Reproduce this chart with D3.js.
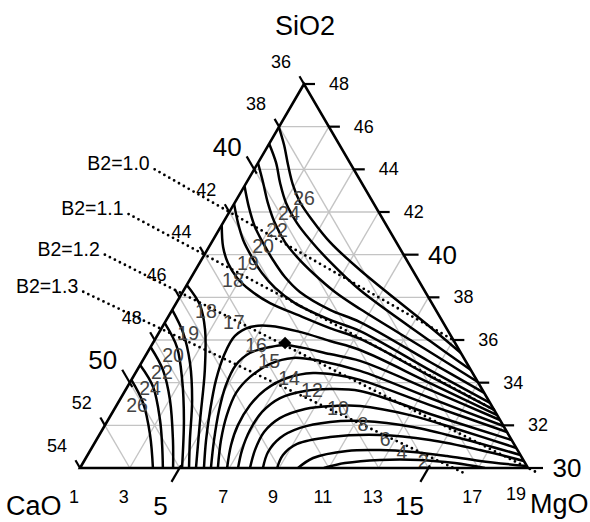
<!DOCTYPE html>
<html>
<head>
<meta charset="utf-8">
<script src="https://cdn.jsdelivr.net/npm/d3@7"></script>
<style>
  body { margin: 0; background: #fff; }
  svg { display: block; font-family: "Liberation Sans", Arial, sans-serif; }
</style>
</head>
<body>
<div id="chart"></div>
<script>
var width = 590,
    height = 522;

// composition window: CaO + SiO2 + MgO = 85 (rest fixed)
var sio2Ticks = [48, 46, 44, 42, 40, 38, 36, 34, 32, 30];
var caoTicks = [36, 38, 40, 42, 44, 46, 48, 50, 52, 54];
var mgoTicks = [1, 3, 5, 7, 9, 11, 13, 15, 17, 19];
var sio2Major = [40, 30];
var caoMajor = [40, 50];
var mgoMajor = [5, 15];

var gridSiO2 = [32, 34, 36, 38, 40, 42, 44, 46];
var gridCaO = [38, 40, 42, 44, 46, 48, 50, 52];
var gridMgO = [3, 5, 7, 9, 11, 13, 15, 17];

// contours as [SiO2, MgO] points
var upperLevels = [26, 24, 22, 20, 19, 18];
var upperLines = [
  [[45.98,1],[45.14,1.63],[44.20,2.26],[43.27,2.92],[42.47,3.60],[41.63,4.51],[40.59,5.75],[39.28,7.61],[36.61,11.76],[35.39,13.61]],
  [[45.2,1],[44.30,1.73],[43.36,2.36],[42.42,3.07],[41.48,3.98],[40.69,4.90],[39.66,6.22],[38.34,8.08],[35.95,12.09],[34.59,14.41]],
  [[44.30,1],[43.36,1.68],[42.42,2.34],[41.48,3.09],[40.59,3.94],[39.84,4.84],[39.14,5.79],[38.25,7.12],[37.45,8.53],[35.44,12.34],[34.03,14.97]],
  [[43.22,1],[42.23,1.67],[41.30,2.38],[40.55,3.08],[39.75,3.88],[38.95,4.76],[38.25,5.71],[37.41,7.34],[36.84,8.83],[34.97,12.58],[33.52,15.48]],
  [[42.38,1],[41.48,1.61],[40.69,2.21],[39.89,2.96],[39.14,3.74],[38.44,4.62],[37.73,5.77],[36.94,7.58],[36.42,9.04],[34.59,12.76],[33.05,15.95]],
  [[41.39,1],[40.36,1.57],[39.61,2.14],[38.91,2.86],[38.34,3.66],[37.73,4.77],[37.13,6.28],[36.56,7.76],[36.05,9.23],[34.31,12.90],[32.72,16.28]]
];

var lowerLevels = [18, 19, 20, 22, 24, 26];
var lowerLines = [
  [[38.58,1],[37.64,2.00],[36.47,2.79],[34.59,3.72],[32.25,4.70],[30,5.66]],
  [[37.41,1],[36.33,1.98],[34.92,2.96],[33.19,3.91],[31.31,4.76],[30,5.38]],
  [[36.80,1],[35.67,2.06],[34.13,3.04],[32.25,4.05],[30,5.10]],
  [[35.67,1],[34.59,2.04],[33.19,3.02],[31.31,4.08],[30,4.74]],
  [[34.83,1],[33.80,2.04],[32.25,3.09],[31.08,3.76],[30,4.33]],
  [[34.13,1],[33.05,2.01],[31.55,3.04],[30,3.93]]
];

var archLevels = [17, 16, 15, 14, 12, 10, 8, 6, 4, 2];
var archLines = [
  [[30,5.98],[31.31,5.41],[32.72,4.87],[34.13,4.40],[35.30,4.14],[36.19,4.13],[36.61,4.53],[36.66,5.31],[36.38,6.65],[35.95,8.07],[35.53,9.49],[33.98,13.07],[32.48,16.52]],
  [[30,6.26],[31.31,5.73],[32.72,5.23],[33.89,4.92],[34.83,4.85],[35.39,5.13],[35.67,5.80],[35.77,6.36],[35.63,7.15],[35.34,8.37],[35.02,9.74],[33.66,13.23],[32.25,16.75]],
  [[30,6.54],[31.31,6.01],[32.48,5.66],[33.52,5.51],[34.27,5.70],[34.88,6.20],[35.16,6.98],[35.02,8.14],[34.55,9.98],[33.28,13.42],[31.97,17.03]],
  [[30,6.91],[31.08,6.53],[32.02,6.34],[32.95,6.36],[33.66,6.60],[34.22,7.21],[34.45,8.14],[34.36,9.15],[34.13,10.19],[32.95,13.59],[31.69,17.31]],
  [[30,7.35],[30.84,7.09],[31.78,6.94],[32.63,7.00],[33.28,7.40],[33.61,8.24],[33.70,9.19],[33.61,10.45],[32.53,13.80],[31.31,17.69]],
  [[30,7.83],[30.84,7.61],[31.69,7.55],[32.34,7.86],[32.77,8.66],[32.91,9.79],[32.91,10.80],[32.48,13.02],[31.78,15.38],[30.94,18.06]],
  [[30,8.35],[30.75,8.18],[31.41,8.33],[31.88,8.90],[32.16,9.97],[32.20,11.27],[31.92,13.42],[31.36,15.71],[30.61,18.39]],
  [[30,8.92],[30.61,8.85],[31.13,9.16],[31.45,10.32],[31.55,12.28],[31.31,14.41],[30.84,16.65],[30.33,18.67]],
  [[30,9.76],[30.47,10.13],[30.80,11.33],[30.84,12.63],[30.75,14.01],[30.56,15.46],[30.33,16.91],[30.09,18.91]],
  [[30,10.80],[30.23,11.53],[30.38,12.86],[30.38,14.47],[30.23,15.95],[30,17.27]]
];

var contourLabels = ["26","24","22","20","19","18","18","19","20","22","24","26","17","16","15","14","12","10","8","6","4","2"];
var contourLabelPos = [[42.66,3.67],[41.95,3.42],[41.16,3.34],[40.41,3.15],[39.61,2.94],[38.81,2.74],
  [37.36,2.38],[36.33,2.18],[35.30,2.09],[34.50,2.04],[33.75,1.94],[32.95,1.82],
  [36.84,3.76],[35.77,5.19],[35.02,6.09],[34.22,7.29],[33.66,8.49],[32.81,9.96],[32.06,11.34],[31.36,12.58],[30.75,13.56],[30.33,14.62]];

// basicity lines CaO/SiO2, drawn between two MgO values
var b2Values = [1.0, 1.1, 1.2, 1.3];
var b2Labels = ["B2=1.0", "B2=1.1", "B2=1.2", "B2=1.3"];
var b2MgOStart = [-3, -3, -3, -3];
var b2MgOEnd = [13, 16.3, 19.4, 16.5];

var marker = [35.86, 6.31];

var svg = d3.select("#chart")
    .append("svg")
    .attr("width", width)
    .attr("height", height);

var x0 = 80;
var y = d3.scaleLinear().domain([30, 48]).range([468, 84]);
var w = d3.scaleLinear().domain([0, 18]).range([0, 448]);

function pt(s, m) {
  return [x0 + w(s - 30) / 2 + w(m - 1), y(s)];
}

var corners = [pt(48, 1), pt(30, 1), pt(30, 19)];

svg.append("clipPath").attr("id", "tri")
  .append("polygon")
  .attr("points", corners.map(function(p) { return p.join(","); }).join(" "));

// grid
var grid = svg.append("g").attr("stroke", "#c4c4c4").attr("stroke-width", 1.4);
gridSiO2.forEach(function(s) {
  var a = pt(s, 1), b = pt(s, 49 - s);
  grid.append("line").attr("x1", a[0]).attr("y1", a[1]).attr("x2", b[0]).attr("y2", b[1]);
});
gridCaO.forEach(function(c) {
  var a = pt(84 - c, 1), b = pt(30, 55 - c);
  grid.append("line").attr("x1", a[0]).attr("y1", a[1]).attr("x2", b[0]).attr("y2", b[1]);
});
gridMgO.forEach(function(m) {
  var a = pt(30, m), b = pt(49 - m, m);
  grid.append("line").attr("x1", a[0]).attr("y1", a[1]).attr("x2", b[0]).attr("y2", b[1]);
});

// contours
var line = d3.line()
  .x(function(d) { return pt(d[0], d[1])[0]; })
  .y(function(d) { return pt(d[0], d[1])[1]; })
  .curve(d3.curveCatmullRom.alpha(0.5));

var cont = svg.append("g").attr("clip-path", "url(#tri)")
  .attr("fill", "none").attr("stroke", "#000").attr("stroke-width", 2.5);
cont.selectAll(".upper").data(upperLines).enter().append("path").attr("d", line);
cont.selectAll(".lower").data(lowerLines).enter().append("path").attr("d", line);
cont.selectAll(".arch").data(archLines).enter().append("path").attr("d", line);

// B2 dotted lines
b2Values.forEach(function(k, i) {
  var s0 = (85 - b2MgOStart[i]) / (1 + k),
      s1 = (85 - b2MgOEnd[i]) / (1 + k);
  var a = pt(s0, b2MgOStart[i]), b = pt(s1, b2MgOEnd[i]);
  svg.append("line")
    .attr("x1", a[0]).attr("y1", a[1]).attr("x2", b[0]).attr("y2", b[1])
    .attr("stroke", "#000").attr("stroke-width", 2.8)
    .attr("stroke-linecap", "round")
    .attr("stroke-dasharray", "0,5.6");
  svg.append("text")
    .attr("x", a[0] - 5).attr("y", a[1] + 1)
    .attr("text-anchor", "end")
    .attr("font-size", 19.5)
    .text(b2Labels[i]);
});

// contour labels
svg.selectAll(".clab").data(contourLabels).enter().append("text")
  .attr("x", function(d, i) { return pt(contourLabelPos[i][0], contourLabelPos[i][1])[0]; })
  .attr("y", function(d, i) { return pt(contourLabelPos[i][0], contourLabelPos[i][1])[1]; })
  .attr("text-anchor", "middle")
  .attr("dominant-baseline", "central")
  .attr("font-size", 19.5)
  .attr("fill", "#444")
  .text(function(d) { return d; });

// marker
var mp = pt(marker[0], marker[1]);
svg.append("rect")
  .attr("x", -4.4).attr("y", -4.4).attr("width", 8.8).attr("height", 8.8)
  .attr("transform", "translate(" + mp[0] + "," + mp[1] + ") rotate(45)")
  .attr("fill", "#000");

// triangle
svg.append("polygon")
  .attr("points", corners.map(function(p) { return p.join(","); }).join(" "))
  .attr("fill", "none").attr("stroke", "#000").attr("stroke-width", 2.6)
  .attr("stroke-linejoin", "miter");

// ticks and tick labels
var ticks = svg.append("g").attr("stroke", "#000").attr("stroke-width", 2.2);
var lab = svg.append("g");
var ul = [-0.504, -0.865], ub = [-0.504, 0.865];

caoTicks.forEach(function(c) {
  var p = pt(84 - c, 1), big = caoMajor.indexOf(c) >= 0;
  var a = big ? -5 : 0, b = big ? 15 : 9;
  ticks.append("line")
    .attr("x1", p[0] + a * ul[0]).attr("y1", p[1] + a * ul[1])
    .attr("x2", p[0] + b * ul[0]).attr("y2", p[1] + b * ul[1]);
  lab.append("text")
    .attr("x", p[0] + (big ? -27 : -23)).attr("y", p[1] - 22.5)
    .attr("text-anchor", "middle").attr("dominant-baseline", "central")
    .attr("font-size", big ? 26 : 18)
    .text(c);
});

sio2Ticks.forEach(function(s) {
  var p = pt(s, 49 - s), big = sio2Major.indexOf(s) >= 0;
  ticks.append("line")
    .attr("x1", p[0]).attr("y1", p[1])
    .attr("x2", p[0] + (big ? 15 : 11)).attr("y2", p[1]);
  lab.append("text")
    .attr("x", p[0] + (big ? 39 : 35)).attr("y", p[1])
    .attr("text-anchor", "middle").attr("dominant-baseline", "central")
    .attr("font-size", big ? 26 : 18)
    .text(s);
});

mgoTicks.forEach(function(m, i) {
  var p = pt(30, m), big = mgoMajor.indexOf(m) >= 0,
      last = i === mgoTicks.length - 1;
  if (big) {
    ticks.append("line")
      .attr("x1", p[0] - 3 * ub[0]).attr("y1", p[1] - 3 * ub[1])
      .attr("x2", p[0] + 16 * ub[0]).attr("y2", p[1] + 16 * ub[1]);
  }
  lab.append("text")
    .attr("x", p[0] + (big ? -19 : (last ? -12 : -6)))
    .attr("y", p[1] + (big ? 38 : (last ? 26 : 29)))
    .attr("text-anchor", "middle").attr("dominant-baseline", "central")
    .attr("font-size", big ? 26 : 18)
    .text(m);
});

// axis titles
svg.append("text").attr("x", 305).attr("y", 35).attr("text-anchor", "middle")
  .attr("font-size", 27).text("SiO2");
svg.append("text").attr("x", 6).attr("y", 515)
  .attr("font-size", 27).text("CaO");
svg.append("text").attr("x", 530).attr("y", 513)
  .attr("font-size", 27).text("MgO");
</script>
</body>
</html>
